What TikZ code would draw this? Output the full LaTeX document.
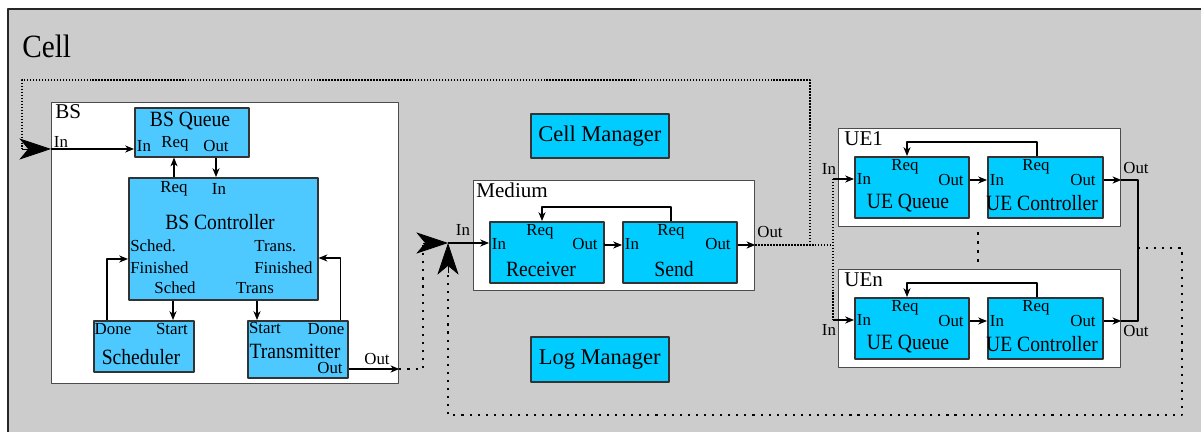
\documentclass[tikz,border=0pt]{standalone}
\usepackage{fontspec}
\setmainfont{Liberation Serif}
\newfontfamily\narrowfont[FakeStretch=0.9]{Liberation Serif}
\usetikzlibrary{arrows.meta,calc}
\definecolor{cellgray}{HTML}{CCCCCC}
\definecolor{bsblue}{HTML}{4DC9FF}
\definecolor{mblue}{HTML}{00CCFF}
\tikzset{
  box/.style={draw=black!80,line width=0.9pt,inner sep=0pt,anchor=north west},
  bsbox/.style={box,fill=bsblue},
  mbox/.style={box,fill=mblue},
  frame/.style={draw=black!70,line width=0.8pt,fill=white,inner sep=0pt,anchor=north west},
  port/.style={font=\fontsize{9.6}{10}\selectfont,inner sep=0pt},
  title/.style={font=\narrowfont\fontsize{12.4}{14}\selectfont,inner sep=0pt},
  ctitle/.style={font=\fontsize{12}{14}\selectfont,inner sep=0pt,anchor=north west},
  mgr/.style={mbox,font=\fontsize{12.8}{14}\selectfont,minimum width=2.76cm},
  wire/.style={line width=0.6pt,->},
  bcast/.style={line width=1pt,dash pattern=on 0.8pt off 0.9pt},
  ret/.style={line width=1.2pt,dash pattern=on 1.2pt off 3.4pt},
  big/.style={-{Stealth[length=18pt,width=12pt,inset=5pt]}},
}
\begin{document}
\begin{tikzpicture}[x=0.02cm,y=-0.02cm,>={Stealth[length=5pt,width=4pt,inset=1.5pt]},line join=round]
	\useasboundingbox (0,0) rectangle (1201,432);
	\clip (0,0) rectangle (1201,432);
	\draw[fill=cellgray,draw=black!85,line width=1.4pt] (8,9) rectangle (1240,470);
	\node[font=\narrowfont\fontsize{18.5}{20}\selectfont,inner sep=0pt,anchor=west] (cell) at (22,46) {Cell};
	\path
	(22,80) coordinate (tl)
	(810,80) coordinate (tr)
	(810,245) coordinate (bsplit)
	(833,245) coordinate (uesplit)
	(22,149) coordinate (bsjoin)
	(423,243) coordinate (rjoin)
	(448,243) coordinate (min)
	(1138,248) coordinate (uemerge)
	(1182,415) coordinate (retc)
	;
	% base station
	\node[frame,minimum width=6.94cm,minimum height=5.62cm] (bs) at (51,102) {};
	\node[ctitle] (bsname) at (55,104) {BS};
	\node[bsbox,minimum width=2.28cm,minimum height=0.98cm] (queue) at (134,107) {};
	\node[bsbox,minimum width=3.78cm,minimum height=2.44cm] (ctrl) at (128,177) {};
	\node[bsbox,minimum width=2cm,minimum height=1.02cm] (sched) at (93,320) {};
	\node[bsbox,minimum width=2cm,minimum height=1.14cm] (trans) at (247,320) {};
	\node[title] (queuename) at (190,121) {BS Queue};
	\node[port] (qin) at (144,146) {In};
	\node[port] (qreq) at (175,144) {Req};
	\node[port] (qout) at (216,146) {Out};
	\node[port] (creq) at (174,189) {Req};
	\node[port] (cin) at (219,189) {In};
	\node[title] (ctrlname) at (220,222) {BS Controller};
	\node[port,anchor=west] (csched) at (130,246) {Sched.};
	\node[port,anchor=west] (csfin) at (130,268) {Finished};
	\node[port,anchor=west] (ctrans) at (254,246) {Trans.};
	\node[port,anchor=west] (ctfin) at (254,268) {Finished};
	\node[port] (cso) at (175,288) {Sched};
	\node[port] (cto) at (255,288) {Trans};
	\node[port] (sdone) at (113,329) {Done};
	\node[port] (sstart) at (172,329) {Start};
	\node[title] (schedname) at (141,357) {Scheduler};
	\node[port] (tstart) at (265,328) {Start};
	\node[port] (tdone) at (326,329) {Done};
	\node[title] (transname) at (295,351) {Transmitter};
	\node[port] (tout) at (330,368) {Out};
	\node[port] (bsin) at (61,142) {In};
	\node[port] (bsout) at (377,359) {Out};
	\draw[wire] (creq.north |- ctrl.north) -- (creq.north |- queue.south);
	\draw[wire] (qout.south |- queue.south) -- (qout.south |- ctrl.north);
	\draw[wire] ($(cso.south |- ctrl.south)+(-2,0)$) -- ($(cso.south |- sched.north)+(-2,0)$);
	\draw[wire] ($(cto.south |- ctrl.south)+(2,0)$) -- ($(cto.south |- trans.north)+(2,0)$);
	\draw[wire] ($(sched.north west)+(14,0)$) |- ($(ctrl.west |- csfin)+(0,-9)$);
	\draw[wire] ($(trans.north east)+(-8,0)$) |- ($(ctrl.east |- ctfin)+(0,-10)$);
	\draw[wire] (bs.west |- bsjoin) -- (queue.west |- bsjoin);
	\draw[wire] ($(trans.east |- tout)+(0,1)$) -- ($(bs.east |- tout)+(0,1)$);
	% cell and log managers
	\node[mgr,minimum height=0.88cm] (cellmgr) at (530,113) {Cell Manager};
	\node[mgr,minimum height=0.9cm] (logmgr) at (530,336) {Log Manager};
	% medium
	\node[frame,minimum width=5.62cm,minimum height=2.2cm] (medium) at (473,180) {};
	\node[ctitle] (mediumname) at (476,183) {Medium};
	\node[mbox,minimum width=2.28cm,minimum height=1.22cm] (recv) at (489,221) {};
	\node[mbox,minimum width=2.28cm,minimum height=1.22cm] (send) at (622,221) {};
	\node[port] (rreq) at (540,232) {Req};
	\node[port] (rin) at (499,244) {In};
	\node[port] (rout) at (585,244) {Out};
	\node[title] (recvname) at (541,269) {Receiver};
	\node[port] (sreq) at (671,232) {Req};
	\node[port] (sin) at (632,244) {In};
	\node[port] (sout) at (718,244) {Out};
	\node[title] (sendname) at (674,269) {Send};
	\node[port] (min-l) at (463,230) {In};
	\node[port] (mout) at (770,232) {Out};
	\draw[wire] (sreq.north |- send.north) -- ++(0,-14) -| ($(rreq.north |- recv.north)+(2,0)$);
	\draw[wire] (recv.east |- min) -- ++(0,2) -- ($(send.west |- min)+(0,2)$);
	\draw[wire] (min) -- (recv.west |- min);
	\draw[wire] ($(send.east |- min)+(0,2)$) -- ($(medium.east |- min)+(0,2)$);
	% user equipment
	\foreach \n/\dy/\ly in {1/0/-10,n/141/10}{
		\node[frame,minimum width=5.64cm,minimum height=1.96cm] (ue\n) at (838,{128+\dy}) {};
		\node[ctitle] (uename\n) at (844,{131+\dy}) {UE\n};
		\node[mbox,minimum width=2.28cm,minimum height=1.22cm] (ueq\n) at (854,{156+\dy}) {};
		\node[mbox,minimum width=2.3cm,minimum height=1.22cm] (uec\n) at (987,{156+\dy}) {};
		\node[port] (ueqreq\n) at (905,{167+\dy}) {Req};
		\node[port] (ueqin\n) at (864,{179+\dy}) {In};
		\node[port] (ueqout\n) at (951,{180+\dy}) {Out};
		\node[title] (ueqname\n) at (908,{203+\dy}) {UE Queue};
		\node[port] (uecreq\n) at (1036,{167+\dy}) {Req};
		\node[port] (uecin\n) at (997,{180+\dy}) {In};
		\node[port] (uecout\n) at (1083,{180+\dy}) {Out};
		\node[title] (uecname\n) at (1042,{203+\dy}) {UE Controller};
		\node[port] (uein\n) at (829,{179+\dy+\ly}) {In};
		\node[port] (ueout\n) at (1136,{179+\dy+1.1*\ly}) {Out};
		\draw[wire] ($(uecreq\n.north |- uec\n.north)+(1,0)$) -- ++(0,-14) -| ($(ueqreq\n.north |- ueq\n.north)+(2,0)$);
		\draw[wire] (ueq\n.east |- ueqout\n) -- (uec\n.west |- ueqout\n);
		\draw[wire] (uec\n.east |- uecout\n) -- (ue\n.east |- uecout\n);
		\draw[wire] (uesplit |- ueqin\n) -- (ueq\n.west |- ueqin\n);
	}
	\draw[line width=1.6pt,dash pattern=on 1.6pt off 3.5pt] (978,232) -- (978,262);
	\draw[line width=0.6pt] (ue1.east |- uecout1) -| (uemerge) |- (uen.east |- uecoutn);
	% broadcast from the medium
	\draw[bcast] (medium.east |- min) ++(0,2) -- (uesplit);
	\draw[bcast] (uesplit |- ueqin1) -- (uesplit |- ueqinn);
	\draw[bcast] (bsplit) |- (tl) -- (bsjoin);
	\draw[big] (bsjoin) -- (bs.west |- bsjoin);
	% return to the medium
	\draw[ret] ($(bs.east |- tout)+(0,1)$) -| (rjoin);
	\draw[big] (rjoin) -- (min);
	\draw[ret] (uemerge) -| (retc) -| ($(min)+(0,30)$);
	\draw[big] ($(min)+(0,30)$) -- (min);
\end{tikzpicture}
\end{document}
